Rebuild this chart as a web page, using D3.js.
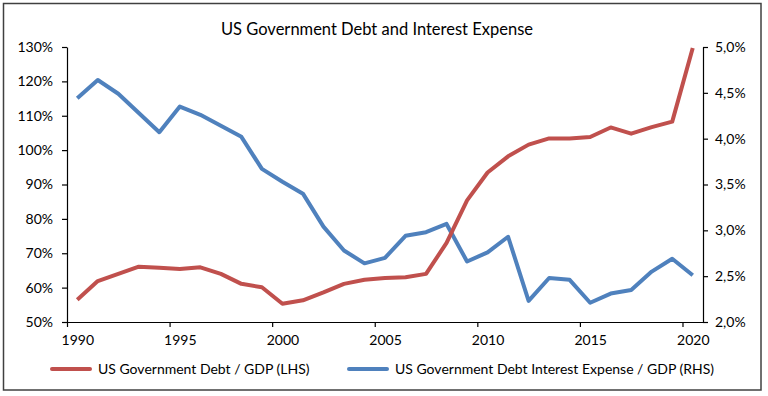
<!DOCTYPE html>
<html>
<head>
<meta charset="utf-8">
<script src="https://cdn.jsdelivr.net/npm/d3@7"></script>
<style>
  body { margin: 0; background: #fff; }
  text { font-family: Lato, "Open Sans", sans-serif; fill: #000; }
</style>
</head>
<body>
<script>
// Chart data
const years = [1990, 1991, 1992, 1993, 1994, 1995, 1996, 1997, 1998, 1999,
  2000, 2001, 2002, 2003, 2004, 2005, 2006, 2007, 2008, 2009,
  2010, 2011, 2012, 2013, 2014, 2015, 2016, 2017, 2018, 2019, 2020];

// US Government Debt / GDP, % (left axis)
const debtGdp = [56.5, 61.9, 64.0, 66.1, 65.8, 65.4, 65.9, 64.0, 61.1, 60.1,
  55.3, 56.3, 58.6, 61.1, 62.3, 62.8, 63.0, 64.0, 73.0, 85.4,
  93.5, 98.2, 101.6, 103.4, 103.4, 103.8, 106.6, 104.8, 106.7, 108.3, 129.7];

// US Government Debt Interest Expense / GDP, % (right axis)
const interestGdp = [4.44, 4.64, 4.49, 4.28, 4.07, 4.35, 4.26, 4.14, 4.02, 3.67,
  3.53, 3.40, 3.04, 2.78, 2.64, 2.70, 2.94, 2.98, 3.07, 2.66,
  2.76, 2.93, 2.23, 2.48, 2.46, 2.21, 2.31, 2.35, 2.55, 2.69, 2.51];

const yearTicks = [1990, 1995, 2000, 2005, 2010, 2015, 2020];
const leftTicks = [50, 60, 70, 80, 90, 100, 110, 120, 130];
const rightTicks = [2.0, 2.5, 3.0, 3.5, 4.0, 4.5, 5.0];

const seriesNames = ["US Government Debt / GDP (LHS)", "US Government Debt Interest Expense / GDP (RHS)"];
const title = "US Government Debt and Interest Expense";

const red = "#C0504D";
const blue = "#4F81BD";

// SVG area
const svgWidth = 768;
const svgHeight = 396;

const plot = { left: 67, right: 703, top: 47, bottom: 322 };

const svg = d3.select("body")
  .append("svg")
  .attr("width", svgWidth)
  .attr("height", svgHeight);

// outer frame
svg.append("rect")
  .attr("x", 3.5)
  .attr("y", 3.5)
  .attr("width", 757.5)
  .attr("height", 386.5)
  .attr("fill", "none")
  .attr("stroke", "#404040")
  .attr("stroke-width", 1.5);

// title
svg.append("text")
  .attr("x", 377)
  .attr("y", 35)
  .attr("text-anchor", "middle")
  .style("font-size", "16.5px")
  .text(title);

// scales: each year is a category slot, points sit in the middle
const x = d3.scaleLinear()
  .domain([years[0], years[years.length - 1] + 1])
  .range([plot.left, plot.right]);
const half = (x(1991) - x(1990)) / 2;

const yLeft = d3.scaleLinear().domain([50, 130]).range([plot.bottom, plot.top]);
const yRight = d3.scaleLinear().domain([2.0, 5.0]).range([plot.bottom, plot.top]);

// axes
const xAxis = svg.append("g")
  .attr("transform", `translate(0, ${plot.bottom})`)
  .call(d3.axisBottom(x).tickValues(yearTicks).tickSize(5).tickSizeOuter(0).tickFormat(d3.format("d")));
xAxis.selectAll(".tick text").attr("x", half).attr("dy", "1.1em");

const leftAxis = svg.append("g")
  .attr("transform", `translate(${plot.left}, 0)`)
  .call(d3.axisLeft(yLeft).tickValues(leftTicks).tickSize(5).tickSizeOuter(0).tickFormat(d => d + "%"));

const rightAxis = svg.append("g")
  .attr("transform", `translate(${plot.right}, 0)`)
  .call(d3.axisRight(yRight).tickValues(rightTicks).tickSize(5).tickSizeOuter(0)
    .tickFormat(d => d.toFixed(1).replace(".", ",") + "%"));

[xAxis, leftAxis, rightAxis].forEach(g => {
  g.attr("font-family", null).attr("font-size", null);
  g.selectAll("text").style("font-size", "14px");
  g.selectAll("path, line").attr("stroke", "#000").attr("stroke-width", 1.2);
});
leftAxis.selectAll(".tick text").attr("x", -14);
rightAxis.selectAll(".tick text").attr("x", 12);

// lines
const debtLine = d3.line()
  .x((d, i) => x(years[i]) + half)
  .y(d => yLeft(d));
const interestLine = d3.line()
  .x((d, i) => x(years[i]) + half)
  .y(d => yRight(d));

svg.append("path")
  .datum(interestGdp)
  .attr("d", interestLine)
  .attr("fill", "none")
  .attr("stroke", blue)
  .attr("stroke-width", 4)
  .attr("stroke-linejoin", "round");

svg.append("path")
  .datum(debtGdp)
  .attr("d", debtLine)
  .attr("fill", "none")
  .attr("stroke", red)
  .attr("stroke-width", 4)
  .attr("stroke-linejoin", "round");

// legend
const legendItems = [
  { name: seriesNames[0], color: red, x: 52 },
  { name: seriesNames[1], color: blue, x: 349 }
];
const legend = svg.selectAll(".legend")
  .data(legendItems)
  .enter()
  .append("g")
  .attr("class", "legend")
  .attr("transform", d => `translate(${d.x}, 369)`);
legend.append("line")
  .attr("x1", 0).attr("x2", 38)
  .attr("stroke", d => d.color)
  .attr("stroke-width", 4)
  .attr("stroke-linecap", "round");
legend.append("text")
  .attr("x", 46)
  .attr("y", 5)
  .style("font-size", "14px")
  .text(d => d.name);
</script>
</body>
</html>
